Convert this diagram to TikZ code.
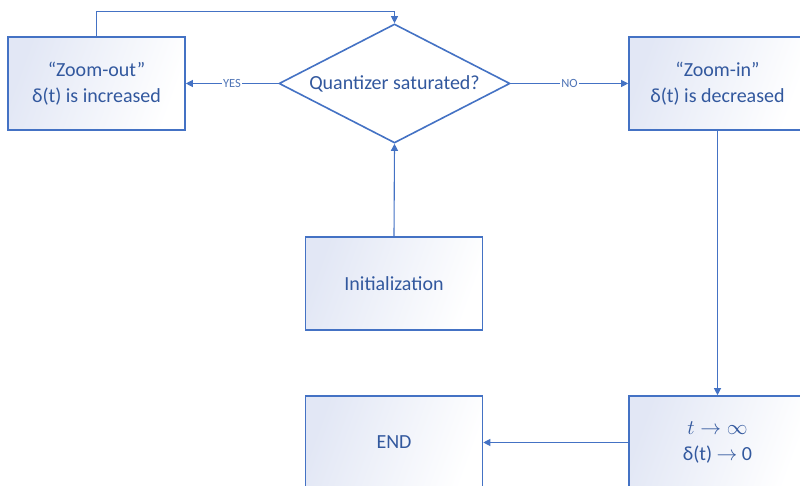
\documentclass[tikz,border=0pt]{standalone}
\usepackage{fontspec}
\setmainfont{Carlito}
\usepackage{tikz}
\usetikzlibrary{arrows.meta,shapes.geometric,positioning}
\definecolor{lineblue}{RGB}{68,114,196}
\definecolor{textblue}{RGB}{50,88,158}
\definecolor{boxfill}{RGB}{226,231,245}
\tikzset{
  stage/.style={draw=lineblue, line width=1.6pt, left color=boxfill, right color=white, shading angle=70,
    minimum width=177pt, minimum height=93pt, align=center, text=textblue,
    font=\fontsize{20}{26}\selectfont},
  query/.style={diamond, shape aspect=2, draw=lineblue, line width=1.6pt, fill=white, minimum width=231pt,
    minimum height=119pt, inner sep=0pt, text=textblue, font=\fontsize{20}{24}\selectfont},
  flow/.style={-{Triangle[length=7pt,width=7pt]}, lineblue, line width=1.1pt},
  tag/.style={fill=white, inner sep=1pt, text=lineblue!80!gray, font=\fontsize{12.5}{14}\selectfont}
}
\begin{document}
\begin{tikzpicture}[x=1pt,y=1pt]
  \useasboundingbox (0,0) rectangle (800,486);
  \node[stage] (zout) at (96.5,402.5) {“Zoom-out”\\δ(t) is increased};
  \node[query] (sat) at (394.5,402.5) {Quantizer saturated?};
  \node[stage] (zin) at (717.5,402.5) {“Zoom-in”\\δ(t) is decreased};
  \node[stage] (init) at (394,202.5) {Initialization};
  \node[stage] (fin) at (394,43.5) {END};
  \node[stage] (lim) at (717.5,43.5) {$t\rightarrow\infty$\\δ(t) $\rightarrow$ 0};
  \draw[flow] (sat.west) -- node[tag] {YES} (zout.east);
  \draw[flow] (sat.east) -- node[tag] {NO} (zin.west);
  \draw[flow] (init.north) -- (sat.south);
  \draw[flow] (zout.north) -- ++(0,25) -| (sat.north);
  \draw[flow] (zin.south) -- (lim.north);
  \draw[flow] (lim.west) -- (fin.east);
\end{tikzpicture}
\end{document}
